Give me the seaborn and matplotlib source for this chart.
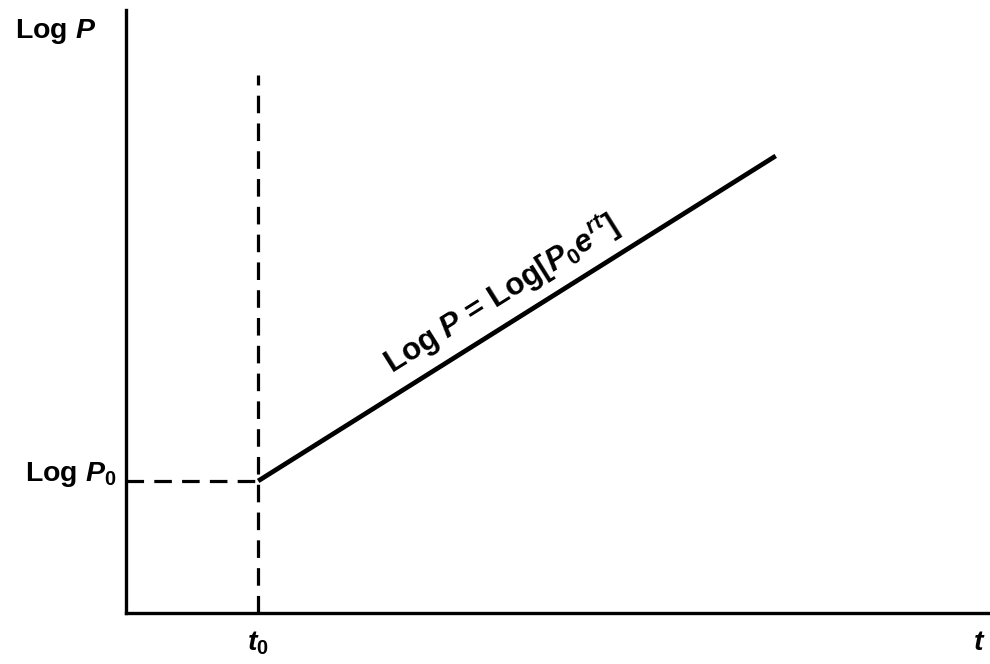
import numpy as np
import matplotlib
matplotlib.use("Agg")
import matplotlib.pyplot as plt
import matplotlib.transforms as mtransforms
import seaborn as sns
import pandas as pd

# Exponential growth on a log scale: Log P rises linearly after t0
t_start = 1.53          # t0
t_end = 7.52
logp_start = 2.19       # Log P0
logp_end = 7.58
dash_top = 8.92
t_axis_end = 9.88

growth_t = [t_start, t_end]
growth_logp = [logp_start, logp_end]
x_tick_labels = [r"$t_0$", r"$t$"]
y_tick_labels = [r"Log $P_0$"]
y_axis_label = r"Log $P$"
line_label = r"Log $P$ = Log[$P_0e^{rt}$]"

sns.set_theme(style="white")
plt.rcParams["font.family"] = ["Liberation Sans", "DejaVu Sans"]
plt.rcParams["font.weight"] = "bold"
plt.rcParams["mathtext.fontset"] = "custom"
plt.rcParams["mathtext.rm"] = "Liberation Sans:bold"
plt.rcParams["mathtext.it"] = "Liberation Sans:bold:italic"
plt.rcParams["mathtext.bf"] = "Liberation Sans:bold"

FS = 20.5
W, H = 990, 664
fig = plt.figure(figsize=(W / 100, H / 100), dpi=100)
ax = fig.add_axes([126 / W, (H - 613) / H, (990 - 126) / W, (613 - 10) / H])

df = pd.DataFrame({"t": growth_t, "logP": growth_logp})
sns.lineplot(data=df, x="t", y="logP", ax=ax, color="black", linewidth=3.4,
             solid_capstyle="butt")

dash = (0, (5.5, 3.2))
ax.plot([t_start, t_start], [0, dash_top], color="black", lw=2.3, linestyle=dash)
ax.plot([0, t_start], [logp_start, logp_start], color="black", lw=2.3, linestyle=dash)

ax.set_xlim(0, 10)
ax.set_ylim(0, 10)

for side in ["top", "right"]:
    ax.spines[side].set_visible(False)
for side in ["left", "bottom"]:
    ax.spines[side].set_color("black")
    ax.spines[side].set_linewidth(2.4)

ax.set_xticks([t_start, t_axis_end])
ax.set_xticklabels(x_tick_labels, fontsize=FS)
ax.set_yticks([logp_start])
ax.set_yticklabels(y_tick_labels, fontsize=FS, fontweight="bold", va="baseline")
ax.tick_params(axis="both", length=0, colors="black")
ax.tick_params(axis="x", pad=12)
ax.tick_params(axis="y", pad=7)

ax.set_xlabel("")
ax.set_ylabel(y_axis_label, rotation=0, fontsize=FS, fontweight="bold",
              ha="left", va="baseline", color="black")
ax.yaxis.set_label_coords(-0.1285, 0.9536)

# Equation written along the growth line, lifted a little above it
angle = np.degrees(np.arctan2(logp_end - logp_start, t_end - t_start))
tm = t_start + 0.5 * (t_end - t_start)
lm = logp_start + 0.5 * (logp_end - logp_start)
screen_angle = np.radians(32.1)
off = 0.19
shift = mtransforms.ScaledTranslation(-np.sin(screen_angle) * off,
                                      np.cos(screen_angle) * off,
                                      fig.dpi_scale_trans)
ax.text(tm, lm, line_label, rotation=angle, transform_rotates_text=True,
        rotation_mode="anchor", ha="center", va="baseline", fontsize=22.5,
        fontweight="bold", color="black", transform=ax.transData + shift)

fig.savefig("out.png", dpi=100)
